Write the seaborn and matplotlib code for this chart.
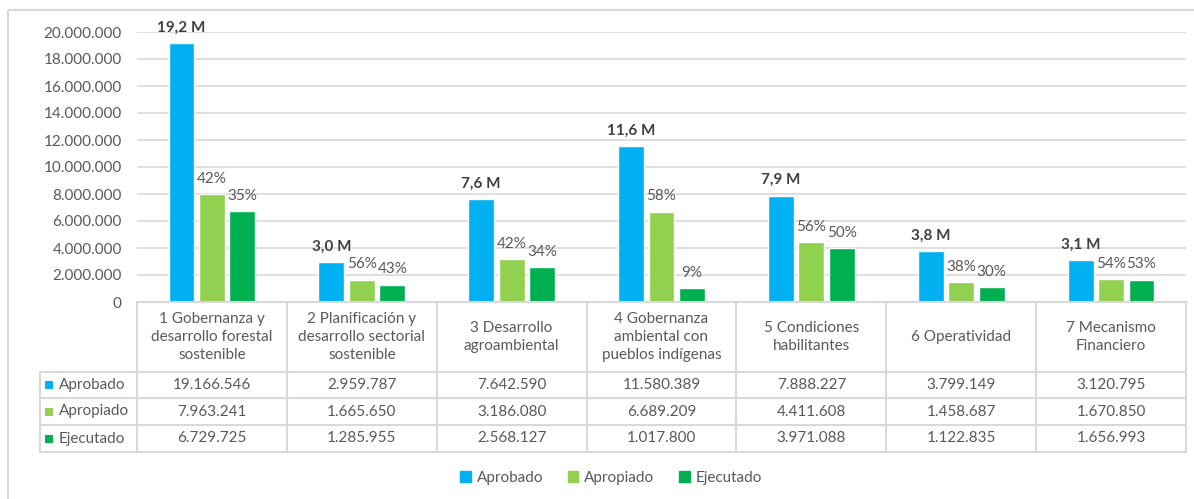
import pandas as pd
import matplotlib.pyplot as plt
import matplotlib.ticker as mticker
import seaborn as sns
from matplotlib.patches import Rectangle

categories = [
    "1 Gobernanza y\ndesarrollo forestal\nsostenible",
    "2 Planificación y\ndesarrollo sectorial\nsostenible",
    "3 Desarrollo\nagroambiental",
    "4 Gobernanza\nambiental con\npueblos indígenas",
    "5 Condiciones\nhabilitantes",
    "6 Operatividad",
    "7 Mecanismo\nFinanciero",
]
series = ["Aprobado", "Apropiado", "Ejecutado"]
aprobado = [19166546, 2959787, 7642590, 11580389, 7888227, 3799149, 3120795]
apropiado = [7963241, 1665650, 3186080, 6689209, 4411608, 1458687, 1670850]
ejecutado = [6729725, 1285955, 2568127, 1017800, 3971088, 1122835, 1656993]
colors = ["#00B0F0", "#92D050", "#00B050"]

values = {"Aprobado": aprobado, "Apropiado": apropiado, "Ejecutado": ejecutado}
df = pd.DataFrame([
    {"cat": c, "serie": s, "valor": values[s][i]}
    for s in series for i, c in enumerate(categories)
])

sns.set_theme(style="white")
plt.rcParams["font.family"] = ["Lato", "DejaVu Sans"]
text_col = "#595959"
line_col = "#d9d9d9"
fs = 11

W, H = 1194, 499
fig = plt.figure(figsize=(W / 100, H / 100), dpi=100)

x0, x1 = 137, 1186
y_top, y_zero = 32, 302
ax = fig.add_axes([x0 / W, 1 - y_zero / H, (x1 - x0) / W, (y_zero - y_top) / H])
sns.barplot(data=df, x="cat", y="valor", hue="serie", palette=colors,
            width=0.61, gap=0.15, ax=ax, legend=False, saturation=1)
ax.set_ylim(0, 20000000)
ax.set_xlim(-0.5, len(categories) - 0.5)
ax.yaxis.set_major_locator(mticker.MultipleLocator(2000000))
ax.yaxis.set_major_formatter(mticker.FuncFormatter(lambda v, p: f"{int(v):,}".replace(",", ".")))
ax.grid(axis="y", color=line_col, lw=1.2)
ax.set_axisbelow(True)
for sp in ax.spines.values():
    sp.set_visible(False)
ax.set_xticks([])
ax.set_xlabel("")
ax.set_ylabel("")
ax.tick_params(axis="y", labelsize=fs, labelcolor=text_col, length=0, pad=11)
ax.patch.set_alpha(0)

# labels above bars
conts = ax.containers
ax.bar_label(conts[0], labels=[f"{v / 1e6:.1f} M".replace(".", ",") for v in aprobado],
             padding=6, fontsize=fs, fontweight="bold", color="#404040")
ax.bar_label(conts[1], labels=[f"{round(a / b * 100 + 1e-9):.0f}%" for a, b in zip(apropiado, aprobado)],
             padding=6, fontsize=fs, color=text_col)
ax.bar_label(conts[2], labels=[f"{round(a / b * 100 + 1e-9):.0f}%" for a, b in zip(ejecutado, aprobado)],
             padding=6, fontsize=fs, color=text_col)

# data table + frame in pixel coordinates
ov = fig.add_axes([0, 0, 1, 1])
ov.set_xlim(0, W)
ov.set_ylim(H, 0)
ov.axis("off")
ov.patch.set_alpha(0)
ov.add_patch(Rectangle((8, 10), W, H, fill=False, ec=line_col, lw=1.5))

col_w = (x1 - x0) / len(categories)
leg_x = 40
rows_y = [302, 372, 398, 425, 452]
lw = 1.5
ov.plot([x0, x1], [rows_y[0], rows_y[0]], color=line_col, lw=lw)
for y in rows_y[1:]:
    ov.plot([leg_x, x1], [y, y], color=line_col, lw=lw)
ov.plot([leg_x, leg_x], [rows_y[1], rows_y[-1]], color=line_col, lw=lw)
for i in range(len(categories) + 1):
    xx = x0 + i * col_w
    ov.plot([xx, xx], [rows_y[0], rows_y[-1]], color=line_col, lw=lw)

for i, c in enumerate(categories):
    cx = x0 + (i + 0.5) * col_w
    ov.text(cx, (rows_y[0] + rows_y[1]) / 2, c, ha="center", va="center",
            fontsize=fs, color=text_col, linespacing=1.4)
    for r, s in enumerate(series):
        v = values[s][i]
        ov.text(cx, (rows_y[r + 1] + rows_y[r + 2]) / 2, f"{v:,}".replace(",", "."),
                ha="center", va="center", fontsize=fs, color=text_col)

for r, s in enumerate(series):
    cy = (rows_y[r + 1] + rows_y[r + 2]) / 2
    ov.add_patch(Rectangle((45, cy - 4), 8, 8, color=colors[r], lw=0))
    ov.text(59, cy, s, ha="left", va="center", fontsize=fs, color=text_col)

# bottom legend
handles = [Rectangle((0, 0), 1, 1, color=c) for c in colors]
fig.legend(handles, series, loc="center", bbox_to_anchor=(611 / W, 1 - 478 / H),
           ncol=3, frameon=False, fontsize=fs, labelcolor=text_col,
           handlelength=0.7, handleheight=0.7, handletextpad=0.4, columnspacing=1.6)

fig.savefig("out.png", dpi=100)
